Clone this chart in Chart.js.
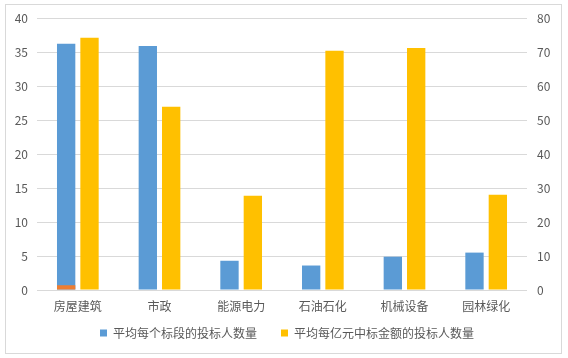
<!DOCTYPE html>
<html>
<head>
<meta charset="utf-8">
<script src="https://cdn.jsdelivr.net/npm/chart.js@4.4.1/dist/chart.umd.min.js"></script>
<style>
  html, body { margin: 0; padding: 0; background: #ffffff; }
  #wrap { position: relative; width: 568px; height: 358px; }
  #frame { position: absolute; left: 5px; top: 4px; width: 557px; height: 350px; box-sizing: border-box; border: 1px solid #D9D9D9; pointer-events: none; }
  canvas { position: absolute; left: 0; top: 0; }
</style>
</head>
<body>
<div id="wrap">
  <canvas id="c" width="568" height="358"></canvas>
  <div id="frame"></div>
</div>
<script>
const categories = ['房屋建筑', '市政', '能源电力', '石油石化', '机械设备', '园林绿化'];
const seriesNames = ['平均每个标段的投标人数量', '平均每亿元中标金额的投标人数量'];
const bidderPerSection = [36.2, 35.9, 4.3, 3.6, 4.9, 5.5];
const bidderPerHundredMillion = [74.2, 53.9, 27.7, 70.4, 71.2, 28.0];
const smallOrangeSeries = [0.7, 0, 0, 0, 0, 0];
const leftTicks = [0, 5, 10, 15, 20, 25, 30, 35, 40];
const rightTicks = [0, 10, 20, 30, 40, 50, 60, 70, 80];

const TEXT = '#595959';
const GRID = '#D9D9D9';
const FONT = '"Noto Sans CJK SC", "Noto Sans", sans-serif';

// nudges the legend block to its place in the reference
const legendNudge = {
  id: 'legendNudge',
  afterLayout(chart) {
    const lg = chart.legend;
    if (!lg) return;
    lg.top -= 11; lg.bottom -= 11;
    lg.left += 3; lg.right += 3;
  }
};

new Chart(document.getElementById('c'), {
  type: 'bar',
  data: {
    labels: categories,
    datasets: [
      { label: '', data: smallOrangeSeries, backgroundColor: '#ED7D31', stack: 'a', yAxisID: 'y', categoryPercentage: 0.572, barPercentage: 0.785 },
      { label: seriesNames[0], data: bidderPerSection, backgroundColor: '#5B9BD5', stack: 'a', yAxisID: 'y', categoryPercentage: 0.572, barPercentage: 0.785 },
      { label: seriesNames[1], data: bidderPerHundredMillion, backgroundColor: '#FFC000', stack: 'b', yAxisID: 'y1', categoryPercentage: 0.572, barPercentage: 0.785 }
    ]
  },
  plugins: [legendNudge],
  options: {
    responsive: false,
    animation: false,
    layout: { padding: { top: 18, left: 0, right: 0, bottom: 0 } },
    plugins: {
      tooltip: { enabled: false },
      legend: {
        position: 'bottom',
        maxHeight: 44,
        labels: {
          filter: (item) => item.datasetIndex !== 0,
          boxWidth: 7, boxHeight: 7, padding: 24, color: TEXT,
          font: { family: FONT, size: 12 }
        }
      }
    },
    scales: {
      x: {
        grid: { display: false, drawTicks: false },
        border: { display: false },
        ticks: { color: TEXT, font: { family: FONT, size: 12 }, padding: 9, maxRotation: 0 },
        afterFit: (s) => { s.height = 24; }
      },
      y: {
        position: 'left', stacked: false,
        min: leftTicks[0], max: leftTicks[leftTicks.length - 1],
        afterBuildTicks: (s) => { s.ticks = leftTicks.map(v => ({ value: v })); },
        grid: { color: GRID, drawTicks: false },
        border: { display: false },
        ticks: { color: TEXT, font: { family: FONT, size: 12 }, padding: 9 },
        afterFit: (s) => { s.width = 37; }
      },
      y1: {
        position: 'right',
        min: rightTicks[0], max: rightTicks[rightTicks.length - 1],
        afterBuildTicks: (s) => { s.ticks = rightTicks.map(v => ({ value: v })); },
        grid: { drawOnChartArea: false, drawTicks: false },
        border: { display: false },
        ticks: { color: TEXT, font: { family: FONT, size: 12 }, padding: 10 },
        afterFit: (s) => { s.width = 41; }
      }
    }
  }
});
</script>
</body>
</html>
